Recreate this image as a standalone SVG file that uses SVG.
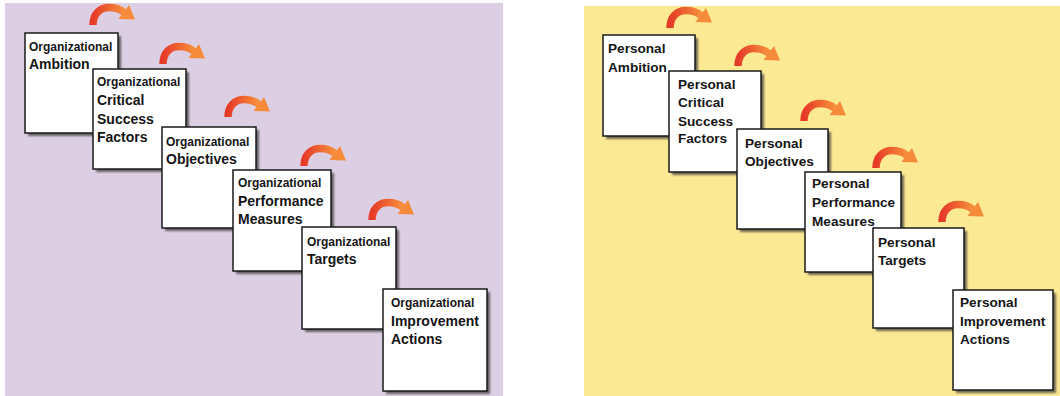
<svg xmlns="http://www.w3.org/2000/svg" xmlns:xlink="http://www.w3.org/1999/xlink" width="1060" height="396" viewBox="0 0 1060 396">
<style>
.box{fill:#ffffff;stroke:#1a1a1a;stroke-width:1.5}
.shd{fill:#3a3a3a;opacity:0.75;filter:url(#blur)}
.t{font-family:"Liberation Sans",Arial,sans-serif;font-weight:bold;fill:#151515}
.s{font-size:12px}
.l{font-size:14px}
.p{font-size:13.6px}
</style>
<defs>
<filter id="blur" x="-10%" y="-10%" width="120%" height="120%"><feGaussianBlur stdDeviation="0.8"/></filter>
<linearGradient id="ag" x1="0" y1="0" x2="1" y2="0">
<stop offset="0" stop-color="#e63a28"/>
<stop offset="1" stop-color="#f7903c"/>
</linearGradient>
<g id="arrow">
<path d="M5,21 C5,10 12,3.5 21,3.5 C27,3.5 32,5 36,8.5" fill="none" stroke="url(#ag)" stroke-width="7.5"/>
<polygon points="30.5,15 41,1 47,15.5" fill="#f58a3a"/>
</g>
</defs>
<rect x="5" y="3" width="498" height="393" fill="#ddcfe3"/>
<rect x="584" y="6" width="476" height="390" fill="#fce994"/>
<g id="connectors">
<use xlink:href="#arrow" x="88" y="4"/>
<use xlink:href="#arrow" x="158" y="43"/>
<use xlink:href="#arrow" x="223" y="96"/>
<use xlink:href="#arrow" x="299" y="145"/>
<use xlink:href="#arrow" x="367" y="199"/>
<use xlink:href="#arrow" x="665" y="7"/>
<use xlink:href="#arrow" x="733" y="45"/>
<use xlink:href="#arrow" x="799" y="100"/>
<use xlink:href="#arrow" x="871" y="147"/>
<use xlink:href="#arrow" x="937" y="201"/>
</g>
<g id="org-ambition">
<rect class="shd" x="28" y="36" width="93" height="100"/>
<rect class="box" x="25" y="33" width="93" height="100"/>
<text class="t s" x="29" y="51">Organizational</text>
<text class="t l" x="29" y="69">Ambition</text>
</g>
<g id="org-csf">
<rect class="shd" x="96" y="72" width="93" height="100"/>
<rect class="box" x="93" y="69" width="93" height="100"/>
<text class="t s" x="97" y="86">Organizational</text>
<text class="t l" x="97" y="105">Critical</text>
<text class="t l" x="97" y="124">Success</text>
<text class="t l" x="97" y="142">Factors</text>
</g>
<g id="org-objectives">
<rect class="shd" x="165" y="130" width="94" height="101"/>
<rect class="box" x="162" y="127" width="94" height="101"/>
<text class="t s" x="166" y="146">Organizational</text>
<text class="t l" x="166" y="164">Objectives</text>
</g>
<g id="org-measures">
<rect class="shd" x="236" y="173" width="98" height="101"/>
<rect class="box" x="233" y="170" width="98" height="101"/>
<text class="t s" x="238" y="187">Organizational</text>
<text class="t l" x="238" y="206">Performance</text>
<text class="t l" x="238" y="224">Measures</text>
</g>
<g id="org-targets">
<rect class="shd" x="305" y="230" width="94" height="102"/>
<rect class="box" x="302" y="227" width="94" height="102"/>
<text class="t s" x="307" y="246">Organizational</text>
<text class="t l" x="307" y="264">Targets</text>
</g>
<g id="org-actions">
<rect class="shd" x="386" y="292" width="104" height="102"/>
<rect class="box" x="383" y="289" width="104" height="102"/>
<text class="t s" x="391" y="307">Organizational</text>
<text class="t l" x="391" y="326">Improvement</text>
<text class="t l" x="391" y="344">Actions</text>
</g>
<g id="per-ambition">
<rect class="shd" x="606" y="38" width="92" height="101"/>
<rect class="box" x="603" y="35" width="92" height="101"/>
<text class="t p" x="608" y="53">Personal</text>
<text class="t p" x="608" y="72">Ambition</text>
</g>
<g id="per-csf">
<rect class="shd" x="672" y="74" width="92" height="101"/>
<rect class="box" x="669" y="71" width="92" height="101"/>
<text class="t p" x="678" y="89">Personal</text>
<text class="t p" x="678" y="107">Critical</text>
<text class="t p" x="678" y="126">Success</text>
<text class="t p" x="678" y="143">Factors</text>
</g>
<g id="per-objectives">
<rect class="shd" x="740" y="132" width="91" height="100"/>
<rect class="box" x="737" y="129" width="91" height="100"/>
<text class="t p" x="745" y="148">Personal</text>
<text class="t p" x="745" y="166">Objectives</text>
</g>
<g id="per-measures">
<rect class="shd" x="808" y="175" width="96" height="100"/>
<rect class="box" x="805" y="172" width="96" height="100"/>
<text class="t p" x="812" y="188">Personal</text>
<text class="t p" x="812" y="207">Performance</text>
<text class="t p" x="812" y="226">Measures</text>
</g>
<g id="per-targets">
<rect class="shd" x="876" y="231" width="91" height="100"/>
<rect class="box" x="873" y="228" width="91" height="100"/>
<text class="t p" x="878" y="247">Personal</text>
<text class="t p" x="878" y="265">Targets</text>
</g>
<g id="per-actions">
<rect class="shd" x="956" y="293" width="100" height="100"/>
<rect class="box" x="953" y="290" width="100" height="100"/>
<text class="t p" x="960" y="307">Personal</text>
<text class="t p" x="960" y="326">Improvement</text>
<text class="t p" x="960" y="344">Actions</text>
</g>
</svg>
